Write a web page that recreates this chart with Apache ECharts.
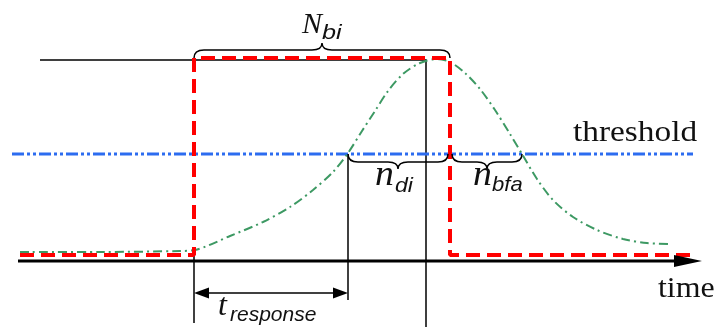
<!DOCTYPE html>
<html>
<head>
<meta charset="utf-8">
<script src="https://cdn.jsdelivr.net/npm/echarts@6/dist/echarts.min.js"></script>
<style>
  html, body { margin: 0; padding: 0; background: #fff; }
  #chart { width: 719px; height: 327px; }
</style>
</head>
<body>
<div id="chart"></div>
<script>
// x = time, y = signal level (0 = time axis)
const detectorOutput = [[20, 6], [194, 6], [194, 203], [450, 203], [450, 6], [697, 6]];
const signalCurve = [
  [20, 9], [100, 9], [180, 10], [195, 11], [230, 25], [263, 39], [290, 54], [313, 71],
  [333, 89], [348, 108], [362, 130], [375, 150], [388, 170], [403, 187], [420, 198],
  [437, 202], [450, 199], [465, 188], [480, 172], [495, 151], [510, 127], [522, 107],
  [537, 82], [553, 61], [573, 44], [597, 31], [623, 22], [647, 18], [670, 17]
];
const thresholdLine = [[12, 107], [693, 107]];
const timeAxis = [[18, 0], [676, 0]];
const guideLines = [
  [[40, 201], [426, 201], [426, -66]],
  [[194, 6], [194, -62]],
  [[348, 107], [348, -39]],
  [[200, -32], [342, -32]]
];
// tip x, level, direction
const arrowHeads = [[702, 0, 1], [194, -32, -1], [348, -32, 1]];
// from, to, level, direction (1 = points up)
const braces = [[194, 450, 203, 1], [348, 448, 107, -1], [452, 522, 107, -1]];

const labelText = ['N', 'bi', 'n', 'di', 'n', 'bfa', 't', 'response', 'threshold', 'time'];
const labelAt = [[302, 226], [322, 221], [375, 74], [395, 68], [473, 74], [492, 69],
                 [218, -56], [230, -61], [573, 118], [658, -38]];

const serif = '"Liberation Serif", "Times New Roman", serif';
const sans = '"Liberation Sans", Arial, sans-serif';
const labelFont = [
  { size: 30, font: 'italic 30px ' + serif, sx: 1 },
  { size: 21, font: 'italic 21px ' + sans, sx: 1.2 },
  { size: 36, font: 'italic 36px ' + serif, sx: 1.05 },
  { size: 21, font: 'italic 21px ' + sans, sx: 1.1 },
  { size: 36, font: 'italic 36px ' + serif, sx: 1.05 },
  { size: 21, font: 'italic 21px ' + sans, sx: 1.05 },
  { size: 32, font: 'italic 32px ' + serif, sx: 1 },
  { size: 21, font: 'italic 21px ' + sans, sx: 1 },
  { size: 29, font: '29px ' + serif, sx: 1.15 },
  { size: 29, font: '29px ' + serif, sx: 1.1 }
];

const chart = echarts.init(document.getElementById('chart'));

function bracePath(x0, x1, yE, s) {
  const h1 = 8, h2 = 7, r = 10;
  const xm = (x0 + x1) / 2, yF = yE + s * h1, yT = yF + s * h2;
  return 'M' + x0 + ',' + yE + 'Q' + x0 + ',' + yF + ' ' + (x0 + r) + ',' + yF +
    'L' + (xm - r) + ',' + yF + 'Q' + xm + ',' + yF + ' ' + xm + ',' + yT +
    'Q' + xm + ',' + yF + ' ' + (xm + r) + ',' + yF +
    'L' + (x1 - r) + ',' + yF + 'Q' + x1 + ',' + yF + ' ' + x1 + ',' + yE;
}

chart.setOption({
  animation: false,
  grid: { left: 0, right: 0, top: 0, bottom: 0 },
  xAxis: { type: 'value', min: 0, max: 719, show: false },
  yAxis: { type: 'value', min: -66, max: 261, show: false },
  series: [
    {
      type: 'lines',
      coordinateSystem: 'cartesian2d',
      polyline: true,
      silent: true,
      z: 2,
      lineStyle: { color: '#000', width: 1.5, opacity: 1 },
      data: guideLines.map(c => ({ coords: c }))
    },
    {
      type: 'line',
      data: timeAxis,
      symbol: 'none',
      clip: false,
      z: 2,
      lineStyle: { color: '#000', width: 3 }
    },
    {
      type: 'line',
      data: thresholdLine,
      symbol: 'none',
      clip: false,
      z: 3,
      lineStyle: { color: '#2c6cf0', width: 3, type: [12, 3, 3, 3, 3, 3] }
    },
    {
      type: 'line',
      data: signalCurve,
      symbol: 'none',
      smooth: 0.3,
      clip: false,
      z: 4,
      lineStyle: { color: '#3d9963', width: 2, type: [9, 4, 2, 4] }
    },
    {
      type: 'line',
      data: detectorOutput,
      symbol: 'none',
      clip: false,
      z: 5,
      lineStyle: { color: '#ff0000', width: 4, type: [14, 7] }
    },
    {
      type: 'custom',
      coordinateSystem: 'cartesian2d',
      z: 6,
      data: arrowHeads,
      renderItem: function (params, api) {
        const p = api.coord([api.value(0), api.value(1)]);
        const d = api.value(2);
        const len = params.dataIndex === 0 ? 28 : 15;
        const w = params.dataIndex === 0 ? 12 : 11;
        return {
          type: 'polygon',
          shape: { points: [[p[0], p[1]], [p[0] - d * len, p[1] - w / 2], [p[0] - d * len, p[1] + w / 2]] },
          style: { fill: '#000' }
        };
      }
    },
    {
      type: 'custom',
      coordinateSystem: 'cartesian2d',
      z: 6,
      data: braces,
      renderItem: function (params, api) {
        const a = api.coord([api.value(0), api.value(2)]);
        const b = api.coord([api.value(1), api.value(2)]);
        return {
          type: 'path',
          shape: { pathData: bracePath(a[0], b[0], a[1], -api.value(3)) },
          style: { fill: 'none', stroke: '#000', lineWidth: 1.5 }
        };
      }
    },
    {
      type: 'custom',
      coordinateSystem: 'cartesian2d',
      z: 7,
      data: labelAt,
      renderItem: function (params, api) {
        const p = api.coord([api.value(0), api.value(1)]);
        const f = labelFont[params.dataIndex];
        return {
          type: 'text',
          x: p[0],
          y: p[1] - 0.32 * f.size,
          scaleX: f.sx,
          style: {
            text: labelText[params.dataIndex],
            font: f.font,
            fill: '#111',
            align: 'left',
            verticalAlign: 'middle'
          }
        };
      }
    }
  ]
});
</script>
</body>
</html>
